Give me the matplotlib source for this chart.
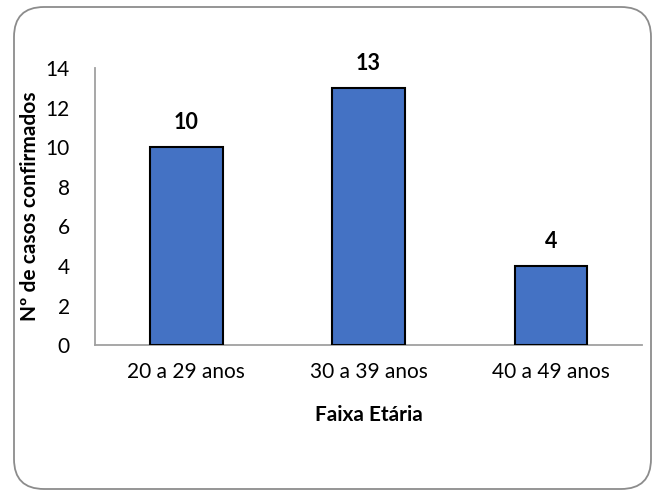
import matplotlib.pyplot as plt
from matplotlib.patches import FancyBboxPatch

# data
faixas = ['20 a 29 anos', '30 a 39 anos', '40 a 49 anos']
casos = [10, 13, 4]
yticks = [0, 2, 4, 6, 8, 10, 12, 14]

plt.rcParams['font.family'] = ['Lato', 'DejaVu Sans']

fig = plt.figure(figsize=(6.54, 4.93), dpi=100)
ax = fig.add_axes([0.145, 0.300, 0.837, 0.562])

# rounded outer frame (inches)
frame = FancyBboxPatch((0.14, 0.04), 6.37, 4.82,
                       boxstyle='round,pad=0,rounding_size=0.3',
                       transform=fig.dpi_scale_trans, fill=False,
                       edgecolor='#8c8c8c', linewidth=1.3, clip_on=False)
fig.patches.append(frame)

x = range(len(faixas))
bars = ax.bar(x, casos, width=0.4, color='#4472C4', edgecolor='black', linewidth=1.5, zorder=3)
for xi, v in zip(x, casos):
    ax.text(xi, v + 0.7, str(v), ha='center', va='bottom', fontsize=15.5, fontweight='bold')

ax.set_xlim(-0.5, 2.5)
ax.set_ylim(0, 14)
ax.set_yticks(yticks)
ax.set_xticks(list(x))
ax.set_xticklabels(faixas)
ax.tick_params(axis='both', length=0, labelsize=15)
ax.tick_params(axis='x', pad=12)
ax.tick_params(axis='y', pad=18)

for side in ['top', 'right']:
    ax.spines[side].set_visible(False)
for side in ['left', 'bottom']:
    ax.spines[side].set_color('#a0a0a0')
    ax.spines[side].set_linewidth(1.3)

ax.set_xlabel('Faixa Etária', fontsize=15, fontweight='bold', labelpad=17)
ax.set_ylabel('Nº de casos confirmados', fontsize=15, fontweight='bold')
ax.yaxis.set_label_coords(-0.1, 0.5)

fig.savefig('out.png', dpi=100)
